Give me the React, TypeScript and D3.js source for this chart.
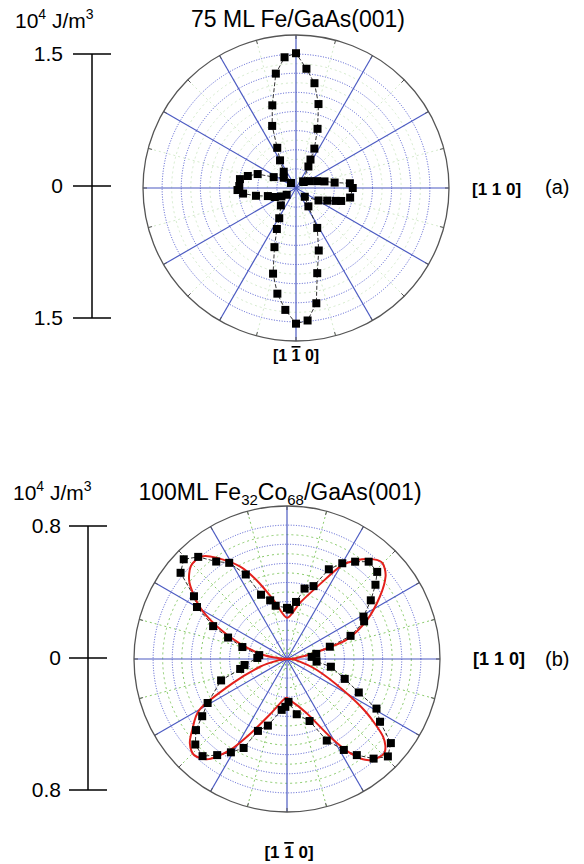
import React from "react";
import * as d3 from "d3";

const W = 584;
const H = 864;

// (a) 75 ML Fe/GaAs(001): angle (deg from [110]) and energy (10^4 J/m^3)
const feAngles = [0, 5, 8, 13, 18, 27, 38, 43, 60, 63, 65, 70, 75, 80, 85, 90, 95, 100, 106, 111, 115, 120, 127, 135, 140, 154, 160, 166, 171, 178, 182, 186, 191, 196, 203, 210, 216, 229, 241, 245, 250, 255, 260, 265, 270, 275, 280, 284, 290, 298, 304, 315, 331, 338, 342, 344, 350];
const feValues = [0.64, 0.61, 0.44, 0.33, 0.25, 0.17, 0.11, 0.11, 0.28, 0.36, 0.49, 0.71, 0.98, 1.2, 1.35, 1.52, 1.48, 1.31, 0.97, 0.75, 0.5, 0.36, 0.23, 0.08, 0.18, 0.28, 0.46, 0.56, 0.64, 0.64, 0.66, 0.6, 0.46, 0.33, 0.26, 0.19, 0.13, 0.26, 0.39, 0.51, 0.71, 1.0, 1.21, 1.38, 1.53, 1.5, 1.32, 0.99, 0.75, 0.51, 0.25, 0.14, 0.29, 0.38, 0.47, 0.53, 0.62];

// (b) 100ML Fe32Co68/GaAs(001)
const fecoAngles = [5, 10, 16, 20, 26, 29, 35, 40, 44, 50, 55, 60, 65, 70, 76, 81, 87, 90, 102, 106, 112, 116, 121, 126, 131, 136, 141, 146, 150, 156, 160, 165, 172, 178, 188, 192, 198, 209, 214, 218, 223, 229, 234, 239, 244, 248, 254, 264, 268, 272, 280, 290, 296, 302, 306, 311, 316, 321, 326, 331, 335, 341, 350, 355];
const fecoValues = [0.15, 0.18, 0.27, 0.41, 0.52, 0.53, 0.62, 0.7, 0.76, 0.77, 0.72, 0.67, 0.6, 0.47, 0.44, 0.35, 0.3, 0.31, 0.33, 0.37, 0.42, 0.57, 0.68, 0.73, 0.82, 0.87, 0.83, 0.68, 0.63, 0.49, 0.38, 0.28, 0.17, 0.18, 0.26, 0.29, 0.42, 0.55, 0.62, 0.7, 0.76, 0.78, 0.72, 0.66, 0.6, 0.47, 0.42, 0.31, 0.29, 0.26, 0.34, 0.4, 0.55, 0.65, 0.72, 0.8, 0.85, 0.81, 0.68, 0.62, 0.48, 0.37, 0.27, 0.18];

// fitted curve for (b)
const fitAngles = [0, 6, 12, 18, 26, 34, 40, 45, 49, 55, 60, 66, 77, 90, 103, 111, 117, 125, 130, 136, 142, 149, 155, 162, 170, 175, 180, 188, 196, 204, 210, 217, 221, 226, 232, 238, 244, 253, 267, 274, 290, 299, 304, 309, 316, 321, 326, 331, 340, 354];
const fitValues = [0, 0.05, 0.16, 0.38, 0.54, 0.68, 0.78, 0.82, 0.8, 0.73, 0.65, 0.5, 0.35, 0.25, 0.37, 0.51, 0.63, 0.75, 0.81, 0.81, 0.75, 0.62, 0.47, 0.3, 0.15, 0.04, 0, 0.05, 0.17, 0.36, 0.61, 0.72, 0.78, 0.81, 0.77, 0.65, 0.5, 0.35, 0.24, 0.25, 0.35, 0.54, 0.69, 0.79, 0.82, 0.75, 0.58, 0.39, 0.19, 0.05];

const spokeAngles = d3.range(0, 360, 30);
const greenSpokeAngles = d3.range(15, 360, 30);
const tickAngles = d3.range(0, 360, 15);
const blueRings = d3.range(1, 8).map(k => k / 8);
const greenRings = d3.range(1, 8).map(k => (k - 0.5) / 8);

const FONT = "Liberation Sans, Arial, sans-serif";
const rad = (deg: number) => (deg * Math.PI) / 180;

type Pt = { a: number; v: number };
const zipPts = (as: number[], vs: number[]): Pt[] => as.map((a, i) => ({ a, v: vs[i] }));

function Polar(props: {
  cx: number; cy: number; R: number; vmax: number; rmax: number;
  pts: Pt[]; fit?: Pt[]; green: string; greenSpokes: boolean;
}) {
  const { cx, cy, R, vmax, rmax, pts, fit, green, greenSpokes } = props;
  const r = d3.scaleLinear().domain([0, vmax]).range([0, rmax]);
  const radial = d3.lineRadial<Pt>()
    .angle(d => rad(90 - d.a))
    .radius(d => r(d.v));
  const dataPath = radial.curve(d3.curveLinearClosed)(pts) || "";
  const fitPath = fit ? d3.lineRadial<Pt>()
    .angle(d => rad(90 - d.a))
    .radius(d => r(d.v))
    .curve(d3.curveCardinalClosed.tension(0.2))(fit) || "" : "";
  const xy = (a: number, rr: number) => [rr * Math.cos(rad(a)), -rr * Math.sin(rad(a))];

  return (
    <g transform={`translate(${cx},${cy})`}>
      {greenRings.map(f => (
        <circle key={"g" + f} r={R * f} fill="none" stroke={green} strokeWidth={0.9} strokeDasharray="2,3" />
      ))}
      {greenSpokes && greenSpokeAngles.map(a => {
        const [x, y] = xy(a, R);
        return <line key={"gs" + a} x1={0} y1={0} x2={x} y2={y} stroke={green} strokeWidth={0.9} strokeDasharray="2,3" />;
      })}
      {blueRings.map(f => (
        <circle key={"b" + f} r={R * f} fill="none" stroke="#3b46c8" strokeWidth={0.9} strokeDasharray="1,1.6" />
      ))}
      {spokeAngles.map(a => {
        const [x, y] = xy(a, R);
        return <line key={"s" + a} x1={0} y1={0} x2={x} y2={y} stroke="#4c5bc2" strokeWidth={1.2} />;
      })}
      <circle r={R} fill="none" stroke="#555" strokeWidth={1.3} />
      {tickAngles.map(a => {
        const [x1, y1] = xy(a, R);
        const [x2, y2] = xy(a, R - 4);
        return <line key={"t" + a} x1={x1} y1={y1} x2={x2} y2={y2} stroke="#555" strokeWidth={1} />;
      })}
      <path d={dataPath} fill="none" stroke="#333" strokeWidth={1} strokeDasharray="4,2" />
      {fit && <path d={fitPath} fill="none" stroke="#e3201b" strokeWidth={2} />}
      {pts.map((d, i) => {
        const [x, y] = xy(d.a, r(d.v));
        return <rect key={i} x={x - 4} y={y - 4} width={8} height={8} fill="#000" />;
      })}
    </g>
  );
}

function ScaleBar(props: { x: number; yTop: number; yBot: number; vmax: number; labelRight: number; half: number }) {
  const { x, yTop, yBot, vmax, labelRight, half } = props;
  const y = d3.scaleLinear().domain([-vmax, vmax]).range([yBot, yTop]);
  const ticks = [vmax, 0, -vmax];
  return (
    <g>
      <line x1={x} x2={x} y1={y(vmax)} y2={y(-vmax)} stroke="#000" strokeWidth={1.5} />
      {ticks.map(t => (
        <g key={t}>
          <line x1={x - half} x2={x + half} y1={y(t)} y2={y(t)} stroke="#000" strokeWidth={1.5} />
          <text x={labelRight} y={y(t) + 7} textAnchor="end" fontSize={21} fontFamily={FONT}>
            {Math.abs(t) === 0 ? "0" : String(Math.abs(t))}
          </text>
        </g>
      ))}
    </g>
  );
}

function Unit(props: { x: number; y: number }) {
  return (
    <text x={props.x} y={props.y} fontSize={21} fontFamily={FONT}>
      10<tspan fontSize={14} dy={-9}>4</tspan>
      <tspan dy={9}> J/m</tspan>
      <tspan fontSize={14} dy={-9}>3</tspan>
    </text>
  );
}

function Bar110(props: { x: number; y: number; size: number }) {
  return (
    <text x={props.x} y={props.y} fontSize={props.size} fontWeight="bold" fontFamily={FONT} textAnchor="middle">
      [1 <tspan style={{ textDecoration: "overline" }}>1</tspan> 0]
    </text>
  );
}

export default function App() {
  const fe = zipPts(feAngles, feValues);
  const feco = zipPts(fecoAngles, fecoValues);
  const fit = zipPts(fitAngles, fitValues);
  return (
    <svg width={W} height={H} style={{ position: "absolute", left: 0, top: 0, background: "#fff" }}>
      {/* panel (a) */}
      <Unit x={15} y={28} />
      <text x={298} y={27} textAnchor="middle" fontSize={23} fontFamily={FONT}>75 ML Fe/GaAs(001)</text>
      <ScaleBar x={92} yTop={54} yBot={318} vmax={1.5} labelRight={63} half={19} />
      <Polar cx={296} cy={188} R={153} vmax={1.5} rmax={133} pts={fe} green="#cfe8c6" greenSpokes={true} />
      <text x={472} y={195} fontSize={17} fontWeight="bold" fontFamily={FONT}>[1 1 0]</text>
      <text x={545} y={194} fontSize={20} fontFamily={FONT}>(a)</text>
      <Bar110 x={296} y={361} size={16} />

      {/* panel (b) */}
      <Unit x={13} y={500} />
      <text x={280} y={500} textAnchor="middle" fontSize={23} fontFamily={FONT}>
        100ML Fe<tspan fontSize={15} dy={5}>32</tspan>
        <tspan dy={-5}>Co</tspan>
        <tspan fontSize={15} dy={5}>68</tspan>
        <tspan dy={-5}>/GaAs(001)</tspan>
      </text>
      <ScaleBar x={88} yTop={526} yBot={790} vmax={0.8} labelRight={61} half={19} />
      <Polar cx={287} cy={659} R={153} vmax={0.8} rmax={132} pts={feco} fit={fit} green="#7cc45a" greenSpokes={true} />
      <text x={473} y={665} fontSize={18} fontWeight="bold" fontFamily={FONT}>[1 1 0]</text>
      <text x={545} y={666} fontSize={20} fontFamily={FONT}>(b)</text>
      <Bar110 x={289} y={858} size={17} />
    </svg>
  );
}
